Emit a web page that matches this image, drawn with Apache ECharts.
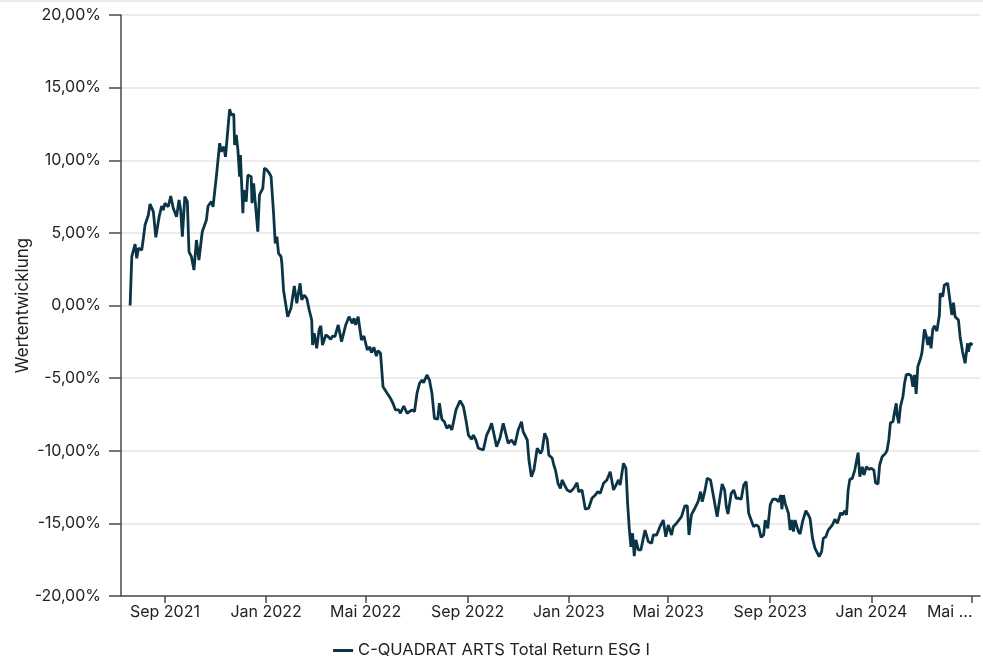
<!DOCTYPE html>
<html>
<head>
<meta charset="utf-8">
<script src="https://cdn.jsdelivr.net/npm/echarts@6/dist/echarts.min.js"></script>
<style>
  html, body { margin: 0; padding: 0; background: #fff; }
  #chart { width: 983px; height: 664px; }
</style>
</head>
<body>
<div id="chart"></div>
<script>
// ---- Data ----
const seriesName = 'C-QUADRAT ARTS Total Return ESG I';
const yAxisTitle = 'Wertentwicklung';

const dates = [
'2021-07-21','2021-07-23','2021-07-27','2021-07-29','2021-07-31','2021-08-04','2021-08-06','2021-08-08','2021-08-12','2021-08-14',
'2021-08-18','2021-08-21','2021-08-25','2021-08-28','2021-08-30','2021-09-01','2021-09-05','2021-09-08','2021-09-11','2021-09-15',
'2021-09-18','2021-09-20','2021-09-22','2021-09-25','2021-09-28','2021-09-30','2021-10-03','2021-10-06','2021-10-09','2021-10-12',
'2021-10-16','2021-10-21','2021-10-23','2021-10-27','2021-10-29','2021-11-02','2021-11-06','2021-11-08','2021-11-11','2021-11-13',
'2021-11-16','2021-11-18','2021-11-20','2021-11-23','2021-11-24','2021-11-26','2021-11-28','2021-11-30','2021-12-01','2021-12-04',
'2021-12-05','2021-12-08','2021-12-10','2021-12-14','2021-12-15','2021-12-17','2021-12-19','2021-12-22','2021-12-24','2021-12-28',
'2021-12-30','2022-01-02','2022-01-05','2022-01-07','2022-01-10','2022-01-12','2022-01-14','2022-01-16','2022-01-19','2022-01-20',
'2022-01-22','2022-01-27','2022-01-31','2022-02-04','2022-02-07','2022-02-11','2022-02-13','2022-02-16','2022-02-19','2022-02-22',
'2022-02-25','2022-02-26','2022-02-28','2022-03-03','2022-03-06','2022-03-08','2022-03-10','2022-03-14','2022-03-17','2022-03-20',
'2022-03-22','2022-03-25','2022-03-29','2022-04-02','2022-04-07','2022-04-11','2022-04-15','2022-04-17','2022-04-19','2022-04-22',
'2022-04-26','2022-04-29','2022-05-03','2022-05-06','2022-05-08','2022-05-11','2022-05-14','2022-05-16','2022-05-19','2022-05-22',
'2022-05-24','2022-05-27','2022-05-31','2022-06-03','2022-06-06','2022-06-10','2022-06-12','2022-06-16','2022-06-20','2022-06-22',
'2022-06-26','2022-06-29','2022-07-02','2022-07-05','2022-07-08','2022-07-10','2022-07-14','2022-07-17','2022-07-20','2022-07-23',
'2022-07-27','2022-07-29','2022-08-01','2022-08-04','2022-08-07','2022-08-10','2022-08-13','2022-08-18','2022-08-23','2022-08-27',
'2022-08-30','2022-09-02','2022-09-06','2022-09-08','2022-09-11','2022-09-14','2022-09-20','2022-09-24','2022-09-27','2022-09-30',
'2022-10-03','2022-10-06','2022-10-10','2022-10-14','2022-10-17','2022-10-20','2022-10-24','2022-10-26','2022-10-28','2022-11-01',
'2022-11-05','2022-11-07','2022-11-12','2022-11-14','2022-11-17','2022-11-20','2022-11-24','2022-11-28','2022-11-30','2022-12-03',
'2022-12-06','2022-12-08','2022-12-12','2022-12-14','2022-12-16','2022-12-19','2022-12-22','2022-12-24','2022-12-27','2022-12-30',
'2023-01-03','2023-01-07','2023-01-11','2023-01-13','2023-01-17','2023-01-21','2023-01-25','2023-01-29','2023-02-02','2023-02-05',
'2023-02-08','2023-02-12','2023-02-16','2023-02-20','2023-02-22','2023-02-24','2023-02-27','2023-03-02','2023-03-04','2023-03-08',
'2023-03-11','2023-03-13','2023-03-15','2023-03-17','2023-03-19','2023-03-21','2023-03-23','2023-03-26','2023-03-29','2023-04-03',
'2023-04-07','2023-04-11','2023-04-13','2023-04-17','2023-04-21','2023-04-25','2023-04-28','2023-05-01','2023-05-05','2023-05-07',
'2023-05-11','2023-05-13','2023-05-17','2023-05-21','2023-05-24','2023-05-26','2023-05-29','2023-06-01','2023-06-06','2023-06-09',
'2023-06-11','2023-06-14','2023-06-17','2023-06-21','2023-06-25','2023-06-29','2023-07-02','2023-07-05','2023-07-08','2023-07-10',
'2023-07-12','2023-07-16','2023-07-19','2023-07-22','2023-07-25','2023-07-28','2023-07-31','2023-08-03','2023-08-06','2023-08-09',
'2023-08-12','2023-08-15','2023-08-18','2023-08-21','2023-08-24','2023-08-26','2023-08-29','2023-09-01','2023-09-04','2023-09-08',
'2023-09-11','2023-09-14','2023-09-15','2023-09-17','2023-09-19','2023-09-23','2023-09-25','2023-09-27','2023-09-29','2023-10-01',
'2023-10-05','2023-10-07','2023-10-10','2023-10-14','2023-10-17','2023-10-19','2023-10-22','2023-10-25','2023-10-27','2023-10-30',
'2023-11-02','2023-11-04','2023-11-07','2023-11-10','2023-11-15','2023-11-18','2023-11-21','2023-11-25','2023-11-27','2023-11-30',
'2023-12-02','2023-12-04','2023-12-06','2023-12-09','2023-12-12','2023-12-16','2023-12-18','2023-12-21','2023-12-23','2023-12-26',
'2023-12-29','2024-01-01','2024-01-04','2024-01-06','2024-01-09','2024-01-11','2024-01-14','2024-01-18','2024-01-20','2024-01-22',
'2024-01-24','2024-01-27','2024-01-29','2024-01-31','2024-02-01','2024-02-03','2024-02-05','2024-02-08','2024-02-10','2024-02-12',
'2024-02-15','2024-02-18','2024-02-20','2024-02-22','2024-02-24','2024-02-26','2024-02-29','2024-03-02','2024-03-05','2024-03-07',
'2024-03-09','2024-03-11','2024-03-13','2024-03-15','2024-03-17','2024-03-20','2024-03-23','2024-03-24','2024-03-27','2024-03-29',
'2024-04-02','2024-04-04','2024-04-07','2024-04-09','2024-04-11','2024-04-15','2024-04-17','2024-04-20','2024-04-23','2024-04-26',
'2024-04-27','2024-04-29','2024-05-02'
];

const values = [
0.00,3.36,4.23,3.25,3.94,3.82,4.63,5.54,6.23,6.99,
6.46,4.69,6.11,6.85,6.57,7.04,6.80,7.54,6.69,6.11,
7.26,6.57,4.74,7.49,7.15,3.70,3.36,2.44,4.51,3.13,
5.08,5.89,6.85,7.15,6.80,8.87,11.17,10.59,10.93,10.24,
12.20,13.51,13.12,13.18,11.05,11.74,10.71,8.87,10.36,6.35,
7.95,7.15,8.98,8.87,7.04,8.41,7.04,5.08,7.61,8.07,
9.45,9.33,9.10,8.87,6.35,4.28,4.74,3.59,3.36,2.91,
1.07,-0.77,-0.19,1.34,0.15,1.53,0.38,0.72,0.50,-0.31,
-1.00,-2.72,-1.91,-2.95,-1.64,-1.41,-2.72,-2.03,-2.15,-2.33,
-2.10,-2.15,-1.34,-2.49,-1.34,-0.77,-1.23,-0.88,-1.34,-0.77,
-2.38,-2.10,-3.06,-2.84,-3.25,-2.88,-3.48,-3.11,-3.29,-5.59,
-5.59,-6.04,-6.39,-6.73,-7.19,-7.19,-7.42,-6.92,-7.42,-7.42,
-7.19,-7.31,-6.04,-5.36,-5.13,-5.31,-4.78,-5.13,-6.04,-7.77,
-7.83,-6.73,-7.83,-8.00,-8.46,-8.23,-8.57,-7.19,-6.55,-6.97,
-7.88,-8.92,-9.21,-8.92,-9.26,-9.83,-9.95,-8.92,-8.57,-8.11,
-8.92,-9.72,-9.14,-8.11,-8.80,-9.49,-9.26,-9.14,-9.60,-8.57,
-8.00,-8.69,-9.26,-10.64,-11.79,-11.33,-9.83,-10.18,-9.95,-8.80,
-9.20,-10.30,-10.50,-10.98,-11.33,-12.24,-12.59,-12.01,-12.36,-12.70,
-12.82,-12.59,-12.20,-12.82,-12.70,-14.03,-13.96,-13.27,-13.05,-12.82,
-12.93,-12.24,-12.01,-11.44,-11.44,-12.70,-12.36,-12.01,-12.36,-10.86,
-11.21,-13.62,-15.34,-16.61,-15.68,-17.25,-16.14,-16.83,-16.83,-15.46,
-16.26,-16.37,-15.80,-15.80,-15.23,-14.77,-15.92,-15.11,-15.80,-15.23,
-14.99,-14.88,-14.54,-13.80,-13.80,-15.80,-14.40,-14.08,-13.51,-12.82,
-13.51,-12.82,-11.90,-12.01,-13.27,-14.54,-13.39,-12.29,-12.70,-13.85,
-14.35,-12.93,-12.70,-13.27,-13.27,-13.34,-12.36,-12.13,-14.31,-14.77,
-15.23,-15.11,-15.23,-15.96,-15.80,-14.77,-15.34,-13.73,-13.34,-13.34,
-13.51,-13.05,-14.03,-13.05,-13.62,-14.31,-15.46,-14.77,-15.57,-14.77,
-15.57,-15.73,-14.88,-14.13,-14.42,-14.65,-16.03,-16.72,-16.61,-17.29,
-16.95,-16.03,-15.92,-15.46,-15.11,-14.72,-14.99,-14.27,-14.42,-14.13,
-14.42,-12.70,-11.97,-11.90,-11.33,-10.13,-11.79,-11.10,-11.67,-11.10,
-11.28,-11.21,-11.33,-12.20,-12.29,-10.98,-10.41,-10.18,-9.95,-9.26,
-8.07,-8.00,-7.31,-6.73,-7.54,-8.11,-6.97,-6.28,-5.36,-4.78,
-4.72,-4.85,-5.59,-4.78,-6.09,-4.21,-3.70,-3.25,-1.64,-2.03,
-2.72,-2.15,-2.95,-1.64,-1.41,-1.76,-0.65,0.84,0.61,1.41,
1.53,1.57,-0.65,0.19,-0.77,-1.00,-2.15,-3.18,-3.98,-2.60,
-3.18,-2.60,-2.72
];

const xTickDates  = ['2021-09-01','2022-01-01','2022-05-01','2022-09-01','2023-01-01','2023-05-01','2023-09-01','2024-01-01','2024-05-01'];
const xTickLabels = ['Sep 2021','Jan 2022','Mai 2022','Sep 2022','Jan 2023','Mai 2023','Sep 2023','Jan 2024','Mai ...'];
const xRange = ['2021-07-10', '2024-05-11'];
const yMin = -20, yMax = 20, yStep = 5;

// ---- Chart ----
function ts(s) { const p = s.split('-').map(Number); return new Date(p[0], p[1] - 1, p[2]).getTime(); }
const tickTs = xTickDates.map(ts);
const seriesData = dates.map((d, i) => [ts(d), values[i]]);

const FONT = 'Inter';
const LINE_COLOR = '#0b3547';
const chart = echarts.init(document.getElementById('chart'), null, { renderer: 'canvas' });
chart.setOption({
  animation: false,
  backgroundColor: '#ffffff',
  textStyle: { fontFamily: FONT },
  graphic: [{
    type: 'rect', left: 0, top: 0, shape: { width: 983, height: 2 },
    style: { fill: '#ebebeb' }, silent: true
  }],
  grid: { left: 121, right: 3, top: 15, bottom: 68, containLabel: false, outerBoundsMode: 'none' },
  legend: {
    bottom: 0, left: 'center',
    icon: 'rect', itemWidth: 20, itemHeight: 3, itemGap: 10,
    textStyle: { fontFamily: FONT, fontSize: 16.5, color: '#222' },
    data: [seriesName]
  },
  xAxis: {
    type: 'value',
    min: ts(xRange[0]), max: ts(xRange[1]),
    axisLine: { show: true, onZero: false, lineStyle: { color: '#4a4a4a', width: 1.5 } },
    axisTick: { show: true, customValues: tickTs, length: 7, lineStyle: { color: '#4a4a4a', width: 1.5 } },
    axisLabel: {
      customValues: tickTs,
      margin: 8,
      fontFamily: FONT, fontSize: 16, color: '#222',
      formatter: function (v) {
        const i = tickTs.indexOf(v);
        if (i < 0) return '';
        return i === tickTs.length - 1 ? '{last|' + xTickLabels[i] + '}' : xTickLabels[i];
      },
      rich: {
        last: { fontFamily: FONT, fontSize: 16, color: '#222', padding: [0, 44, 0, 0] }
      }
    },
    splitLine: { show: false }
  },
  yAxis: {
    type: 'value',
    min: yMin, max: yMax, interval: yStep,
    name: yAxisTitle, nameLocation: 'middle', nameGap: 90, nameRotate: 90,
    nameMoveOverlap: false,
    nameTextStyle: { fontFamily: FONT, fontSize: 17, color: '#222' },
    axisLine: { show: true, lineStyle: { color: '#4a4a4a', width: 1.5 } },
    axisTick: { show: true, length: 12, lineStyle: { color: '#4a4a4a', width: 1.5 } },
    axisLabel: {
      margin: 20, fontFamily: FONT, fontSize: 16, color: '#222',
      formatter: v => v.toFixed(2).replace('.', ',') + '%'
    },
    splitLine: { show: true, lineStyle: { color: '#e6e6e6', width: 1.5 } }
  },
  series: [{
    name: seriesName,
    type: 'line',
    data: seriesData,
    symbol: 'none',
    showSymbol: false,
    lineStyle: { color: LINE_COLOR, width: 2.8 },
    itemStyle: { color: LINE_COLOR }
  }]
});
</script>
</body>
</html>
